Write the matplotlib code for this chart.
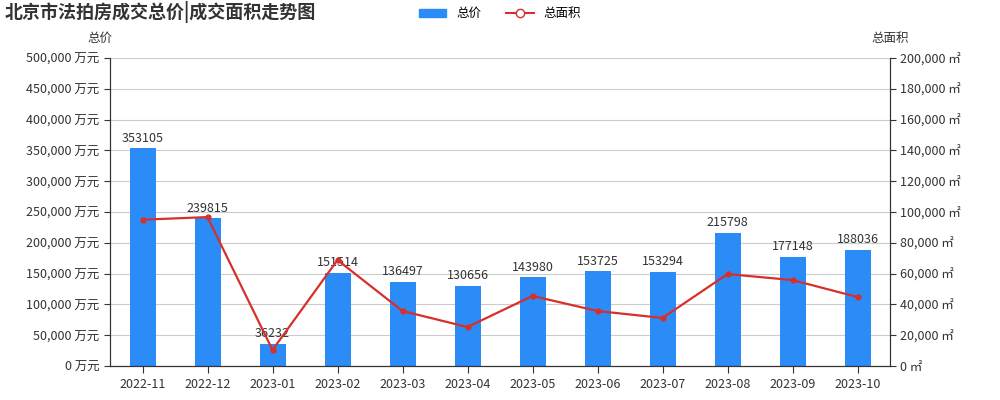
import matplotlib.pyplot as plt
from matplotlib.ticker import FuncFormatter

plt.rcParams['font.family'] = ['Noto Sans CJK SC', 'DejaVu Sans']

months = ["2022-11", "2022-12", "2023-01", "2023-02", "2023-03", "2023-04",
          "2023-05", "2023-06", "2023-07", "2023-08", "2023-09", "2023-10"]
total_price = [353105, 239815, 36232, 151514, 136497, 130656,
               143980, 153725, 153294, 215798, 177148, 188036]
total_area = [95000, 96700, 10400, 68800, 35700, 25300,
              45500, 35700, 31200, 59700, 55800, 44800]

fig = plt.figure(figsize=(10, 4), dpi=100)
ax = fig.add_axes([0.11, 0.085, 0.78, 0.77])
ax2 = ax.twinx()

x = range(len(months))
ax.bar(x, total_price, width=0.4, color="#2b8bf7", zorder=2)
for i, v in enumerate(total_price):
    ax.text(i, v + 6000, str(v), ha="center", va="bottom", fontsize=9, color="#333333")

ax2.plot(x, total_area, color="#d7302b", lw=1.6, marker="o", markersize=3.5,
         markerfacecolor="#d7302b", zorder=3)

ax.set_xlim(-0.5, len(months) - 0.5)
ax.set_ylim(0, 500000)
ax2.set_ylim(0, 200000)
ax.set_yticks(range(0, 500001, 50000))
ax2.set_yticks(range(0, 200001, 20000))
ax.yaxis.set_major_formatter(FuncFormatter(lambda v, p: f"{int(v):,} 万元"))
ax2.yaxis.set_major_formatter(FuncFormatter(lambda v, p: f"{int(v):,} ㎡"))
ax.set_xticks(list(x))
ax.set_xticklabels(months)
ax.grid(axis="y", color="#cccccc", lw=0.8, zorder=0)
ax.set_axisbelow(True)

for a in (ax, ax2):
    a.tick_params(labelsize=9, colors="#333333", length=4)
    for s in ("top",):
        a.spines[s].set_visible(False)
    a.spines["left"].set_color("#333333")
    a.spines["right"].set_color("#333333")
    a.spines["bottom"].set_color("#333333")
ax.tick_params(axis="x", length=5)

fig.text(0.10, 0.895, "总价", ha="center", fontsize=9, color="#333333")
fig.text(0.89, 0.895, "总面积", ha="center", fontsize=9, color="#333333")
fig.text(0.005, 0.955, "北京市法拍房成交总价|成交面积走势图", fontsize=13,
         fontweight="bold", color="#333333")

h1 = plt.Rectangle((0, 0), 1, 1, color="#2b8bf7")
h2, = ax2.plot([], [], color="#d7302b", marker="o", markerfacecolor="white", markersize=6)
fig.legend([h1, h2], ["总价", "总面积"], loc="upper center", bbox_to_anchor=(0.5, 1.01),
           ncol=2, frameon=False, fontsize=9, handlelength=2.2)

fig.savefig("out.png")
